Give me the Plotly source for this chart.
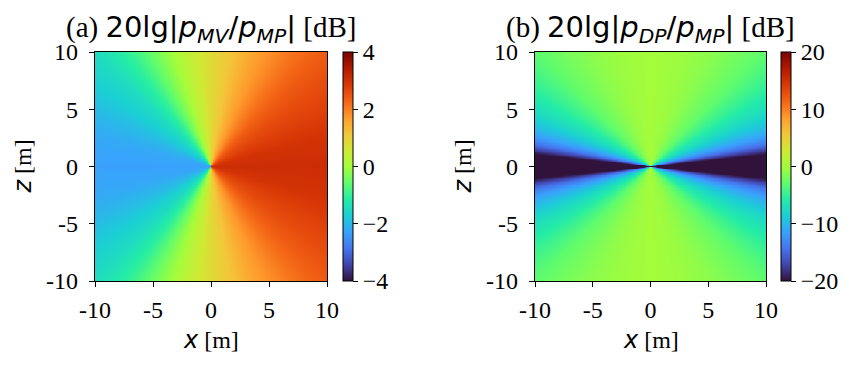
import numpy as np
import plotly.graph_objects as go

W, H = 861, 367

# ---- data -----------------------------------------------------------------
# Panel (a): 20lg|p_MV/p_MP| [dB] vs. polar angle from +x axis (deg, 0..180),
# field is mirror-symmetric about z = 0 and only depends on the angle.
mv_angle_deg = [0, 15, 27, 36, 45, 55, 68, 79, 90, 101, 112, 125, 135, 153, 165, 180]
mv_db = [3.05, 2.95, 2.75, 2.6, 2.4, 2.1, 1.65, 1.2, 0.8, 0.35, -0.2, -1.0, -1.45, -1.95, -2.2, -2.3]

# Panel (b): 20lg|p_DP/p_MP| [dB] vs. angle from the x axis (deg, 0..90),
# symmetric in both x and z.
dp_angle_deg = [0, 4, 6, 8, 10.7, 14, 18, 24, 27, 36, 45, 53, 63, 75, 90]
dp_db = [-40, -25, -20, -17.5, -14.5, -12, -10, -7.8, -7, -4.8, -3.0, -2.0, -1.0, -0.3, 0.0]

axis_ticks = [-10, -5, 0, 5, 10]
axis_ticktext = ["-10", "-5", "0", "5", "10"]
cb_a_ticks = [-4, -2, 0, 2, 4]
cb_b_ticks = [-20, -10, 0, 10, 20]
# ---------------------------------------------------------------------------

xs = np.linspace(-10, 10, 301)
zs = np.linspace(-10, 10, 301)
XX, ZZ = np.meshgrid(xs, zs)
theta = np.degrees(np.abs(np.arctan2(ZZ, XX)))          # 0..180
Z_a = np.interp(theta, mv_angle_deg, mv_db)
theta_f = np.minimum(theta, 180 - theta)                 # 0..90
Z_b = np.interp(theta_f, dp_angle_deg, dp_db)

OFF = 8  # page body margin in the browser
ML, MR, MT, MB = 30, 30, 30, 30
PW, PH = W - ML - MR, H - MT - MB

def px(xp):
    return (xp - OFF - ML) / PW

def py(yp):
    return 1 - (yp - OFF - MT) / PH

top, bot = 52, 281
ydom = [py(bot), py(top)]
xa = [95, 327]
xb = [535, 766]

serif = "Liberation Serif"
tickfont = dict(family=serif, size=24, color="black")

def cbar(xleft, ticks):
    return dict(
        x=px(xleft), xanchor="left", xref="paper",
        y=(ydom[0] + ydom[1]) / 2, yanchor="middle", yref="paper",
        len=(bot - top) / PH, lenmode="fraction",
        thickness=10, thicknessmode="pixels",
        xpad=0, ypad=0,
        outlinewidth=1, outlinecolor="black",
        ticks="outside", ticklen=5, tickcolor="black",
        tickvals=ticks, tickfont=tickfont,
    )

fig = go.Figure()
fig.add_trace(go.Heatmap(
    x=xs, y=zs, z=Z_a, colorscale="Turbo", zmin=-4, zmax=4,
    xaxis="x", yaxis="y", colorbar=cbar(343, cb_a_ticks),
    hoverinfo="skip",
))
fig.add_trace(go.Heatmap(
    x=xs, y=zs, z=Z_b, colorscale="Turbo", zmin=-20, zmax=20,
    xaxis="x2", yaxis="y2", colorbar=cbar(781, cb_b_ticks),
    hoverinfo="skip",
))

def axis(dom, anchor, standoff):
    return dict(
        domain=dom, anchor=anchor, range=[-10, 10],
        tickvals=axis_ticks, ticktext=axis_ticktext,
        ticks="outside", ticklen=5, tickwidth=1, tickcolor="black",
        showline=True, linecolor="black", linewidth=1.2, mirror=True,
        showgrid=False, zeroline=False, tickfont=tickfont,
        ticklabelstandoff=standoff, automargin=False,
    )

fig.update_layout(
    width=W, height=H,
    margin=dict(l=ML, r=MR, t=MT, b=MB, autoexpand=False),
    paper_bgcolor="white", plot_bgcolor="white",
    showlegend=False,
    xaxis=axis([px(xa[0]), px(xa[1])], "y", 2),
    yaxis=axis(ydom, "x", 6),
    xaxis2=axis([px(xb[0]), px(xb[1])], "y2", 2),
    yaxis2=axis(ydom, "x2", 6),
)

sans = "font-family:DejaVu Sans"
def title_text(tag, num):
    return (f"({tag}) <span style=\"{sans}\">20lg|<i>p</i><sub><i>{num}</i></sub>/"
            f"<i>p</i><sub><i>MP</i></sub>|</span> [dB]")

def xlabel(sym):
    return f"<span style=\"{sans}\"><i>{sym}</i></span> [m]"

ann = []
for xr, tag, num, ylab_x in [(xa, "a", "MV", 22), (xb, "b", "DP", 462)]:
    cx = (xr[0] + xr[1]) / 2
    ann.append(dict(x=px(cx), y=py(29), xref="paper", yref="paper",
                    text=title_text(tag, num), showarrow=False,
                    xanchor="center", yanchor="middle",
                    font=dict(family=serif, size=29, color="black")))
    ann.append(dict(x=px(cx), y=py(340), xref="paper", yref="paper",
                    text=xlabel("x"), showarrow=False,
                    xanchor="center", yanchor="middle",
                    font=dict(family=serif, size=24, color="black")))
    ann.append(dict(x=px(ylab_x), y=py((top + bot) / 2), xref="paper", yref="paper",
                    text=xlabel("z"), showarrow=False, textangle=-90,
                    xanchor="center", yanchor="middle",
                    font=dict(family=serif, size=24, color="black")))
fig.update_layout(annotations=ann)

fig.write_html("out.html")
